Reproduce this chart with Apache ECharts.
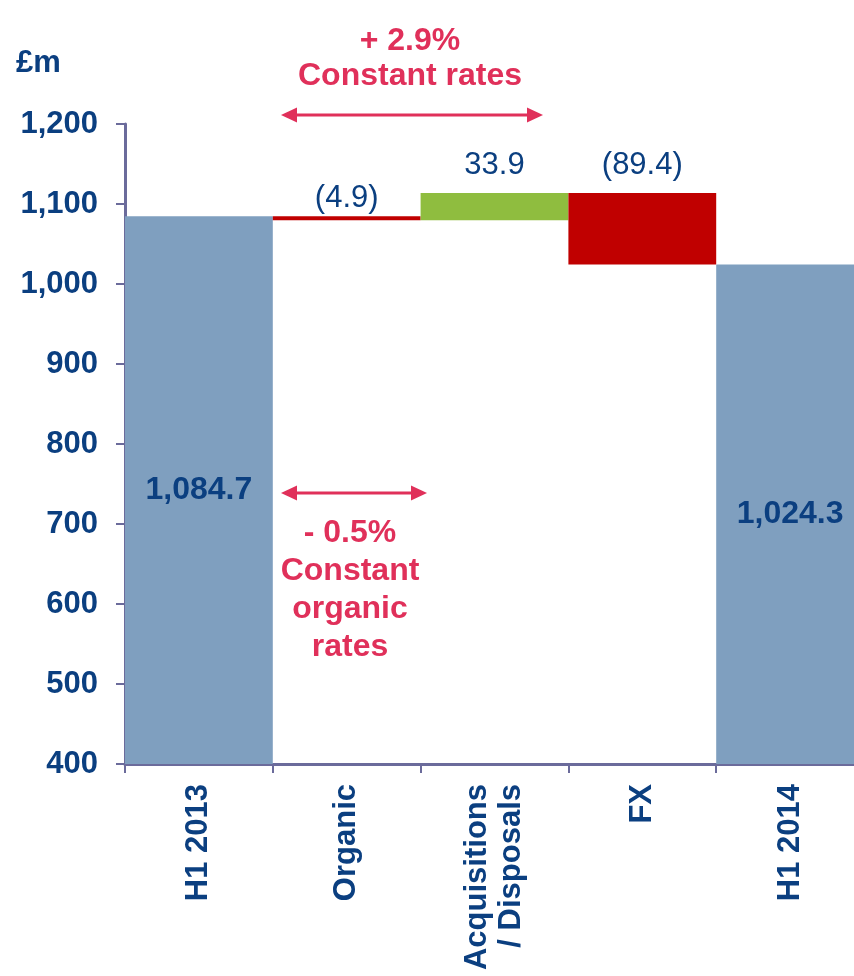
<!DOCTYPE html>
<html>
<head>
<meta charset="utf-8">
<title>Revenue bridge H1 2013 to H1 2014</title>
<script src="https://cdn.jsdelivr.net/npm/echarts@6/dist/echarts.min.js"></script>
<style>
  html, body { margin: 0; padding: 0; background: #ffffff; }
  #chart { width: 854px; height: 976px; }
</style>
</head>
<body>
<div id="chart"></div>
<script>
// Bridge categories and values (£m)
const categories = ['H1 2013', 'Organic', 'Acquisitions\n/ Disposals', 'FX', 'H1 2014'];
const openingTotal = 1084.7;
const movements = [-4.9, 33.9, -89.4];
const closingTotal = 1024.3;
const yTicks = { min: 400, max: 1200, step: 100 };

const FONT = '"Liberation Sans", Arial, sans-serif';
const NAVY = '#0b3f80';
const PINK = '#e0305a';
const AXIS = '#6b6b9b';
const TOTAL_COLOR = '#7f9fbf';
const UP_COLOR = '#8fbd3f';
const DOWN_COLOR = '#c00000';

// Build the invisible base and visible heights for the waterfall
const baseData = [0];
const barData = [{ value: openingTotal, itemStyle: { color: TOTAL_COLOR }, kind: 'total', raw: openingTotal }];
let running = openingTotal;
movements.forEach(function (m) {
  const next = running + m;
  baseData.push(Math.min(running, next));
  barData.push({
    value: Math.abs(m),
    raw: m,
    kind: 'move',
    itemStyle: { color: m < 0 ? DOWN_COLOR : UP_COLOR }
  });
  running = next;
});
baseData.push(0);
barData.push({ value: closingTotal, itemStyle: { color: TOTAL_COLOR }, kind: 'total', raw: closingTotal });

function fmtTotal(v) {
  return v.toLocaleString('en-GB', { minimumFractionDigits: 1, maximumFractionDigits: 1 });
}
function fmtMove(v) {
  const s = Math.abs(v).toFixed(1);
  return v < 0 ? '(' + s + ')' : s;
}

// Per-bar labels: totals inside, movements above
barData.forEach(function (d, i) {
  if (d.kind === 'total') {
    d.label = {
      show: true, position: 'inside', formatter: fmtTotal(d.raw),
      color: NAVY, fontWeight: 'bold', fontSize: 32, fontFamily: FONT
    };
  } else {
    d.label = {
      show: true, position: 'top', distance: i === 1 ? 2 : 12,
      formatter: fmtMove(d.raw),
      color: NAVY, fontWeight: 'normal', fontSize: 31, fontFamily: FONT
    };
  }
});

const chart = echarts.init(document.getElementById('chart'), null, { renderer: 'canvas' });

function arrow(x1, x2, y) {
  const head = 16, half = 7.5;
  return [
    { type: 'line', shape: { x1: x1 + head - 2, y1: y, x2: x2 - head + 2, y2: y },
      style: { stroke: PINK, lineWidth: 3 } },
    { type: 'polygon', shape: { points: [[x1, y], [x1 + head, y - half], [x1 + head, y + half]] },
      style: { fill: PINK } },
    { type: 'polygon', shape: { points: [[x2, y], [x2 - head, y - half], [x2 - head, y + half]] },
      style: { fill: PINK } }
  ];
}

const option = {
  animation: false,
  backgroundColor: '#ffffff',
  grid: { left: 125, top: 124, bottom: 212, right: -10, containLabel: false, outerBoundsMode: 'none' },
  xAxis: {
    type: 'category',
    data: categories,
    axisLine: { lineStyle: { color: AXIS, width: 3 } },
    axisTick: { show: true, length: 9, lineStyle: { color: AXIS, width: 2 } },
    axisLabel: {
      rotate: 90, margin: 20, color: NAVY, fontWeight: 'bold',
      fontSize: 31, fontFamily: FONT, lineHeight: 34, interval: 0
    }
  },
  yAxis: {
    type: 'value',
    min: yTicks.min, max: yTicks.max, interval: yTicks.step,
    axisLine: { show: true, lineStyle: { color: AXIS, width: 3 } },
    axisTick: { show: true, length: 9, lineStyle: { color: AXIS, width: 2 } },
    splitLine: { show: false },
    axisLabel: {
      margin: 27, color: NAVY, fontWeight: 'bold', fontSize: 31, fontFamily: FONT,
      formatter: function (v) { return v.toLocaleString('en-GB'); }
    }
  },
  series: [
    {
      type: 'bar', stack: 'bridge', data: baseData, barWidth: '100%',
      itemStyle: { color: 'rgba(0,0,0,0)' }, silent: true
    },
    {
      type: 'bar', stack: 'bridge', data: barData, barWidth: '100%'
    }
  ],
  graphic: [
    { type: 'text', left: 16, top: 48,
      style: { text: '£m', fill: NAVY, font: 'bold 31px ' + FONT } },
    { type: 'text', x: 410, y: 24,
      style: { text: '+ 2.9%\nConstant rates', fill: PINK, font: 'bold 32px ' + FONT,
               align: 'center', verticalAlign: 'top', lineHeight: 35 } }
  ].concat(arrow(281, 543, 115)).concat([
    { type: 'text', x: 350, y: 514,
      style: { text: '- 0.5%\nConstant\norganic\nrates', fill: PINK, font: 'bold 32px ' + FONT,
               align: 'center', verticalAlign: 'top', lineHeight: 38 } }
  ]).concat(arrow(281, 427, 493))
};

chart.setOption(option);
</script>
</body>
</html>
